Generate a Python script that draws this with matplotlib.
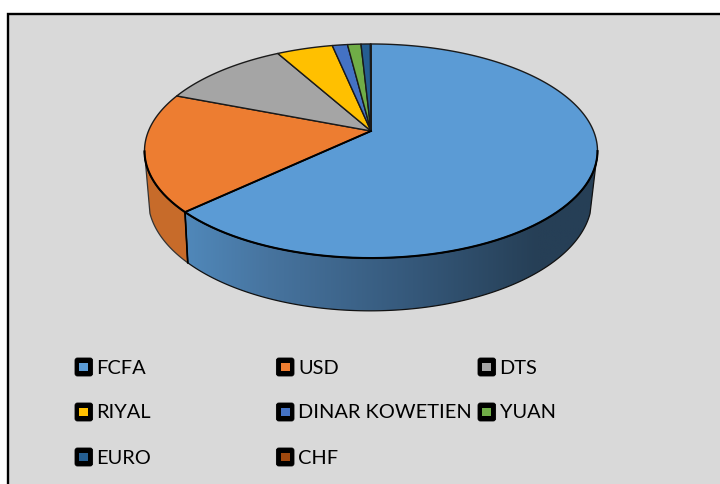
import numpy as np
import matplotlib
matplotlib.use('Agg')
import matplotlib.pyplot as plt
from matplotlib.colors import LinearSegmentedColormap
from matplotlib.patches import Polygon, Rectangle, FancyBboxPatch

# donnees (%)
labels = ['FCFA', 'USD', 'DTS', 'RIYAL', 'DINAR KOWETIEN', 'YUAN', 'EURO', 'CHF']
values = [63.0, 17.9, 11.0, 4.8, 1.3, 1.15, 0.8, 0.05]
colors = ['#5B9BD5', '#ED7D31', '#A5A5A5', '#FFC000', '#4472C4', '#70AD47', '#255E91', '#9E480E']

BG = '#D9D9D9'
K = 0.187  # perspective


def top_xy(t):
    # angle t en degres, sens horaire depuis le haut
    u = np.sin(np.radians(t))
    v = np.cos(np.radians(t))
    w = 1 + K * v
    return 371 + 222.5 * u / w, 131 - 103.3 * v / w


def bottom_xy(t):
    u = np.sin(np.radians(t))
    v = np.cos(np.radians(t))
    w = 1 + K * v
    return 370 + 218 * u / w, 178 - 108 * v / w


def rim(func, a, b, n=200):
    x, y = func(np.linspace(a, b, n))
    return list(zip(x, y))


fig = plt.figure(figsize=(7.2, 4.84), dpi=100)
ax = fig.add_axes([0, 0, 1, 1])
ax.axis('off')

ax.add_patch(Rectangle((7.5, 13.5), 730, 490, fc=BG, ec='black', lw=1.7))

edges = np.concatenate([[0], np.cumsum(values)]) / sum(values) * 360

# paroi bleue avec degrade horizontal
wall = Polygon(rim(top_xy, 100.8, edges[1]) + rim(bottom_xy, edges[1], 108),
               closed=True, fc='none', ec='#111111', lw=0.9, zorder=3)
ax.add_patch(wall)
shade = LinearSegmentedColormap.from_list('wall', [(0, '#5088ba'), (0.2, '#47749f'), (0.55, '#35587a'),
                                                   (0.85, '#263f56'), (1, '#263f56')])
im = ax.imshow(np.linspace(0, 1, 256).reshape(1, -1), cmap=shade, extent=(185, 600, 320, 140),
               aspect='auto', zorder=2)
im.set_clip_path(wall)

# paroi orange
ax.add_patch(Polygon(rim(top_xy, edges[1], 259) + rim(bottom_xy, 252, edges[1]),
                     closed=True, fc='#c76b2a', ec='#333333', lw=0.9, zorder=2.5))

x0, y0 = top_xy(edges[1])
x1, y1 = bottom_xy(edges[1])
ax.plot([x0, x1], [y0, y1], color='black', lw=1.2, zorder=3.5)

# dessus du camembert
for i in range(len(values)):
    t = np.linspace(edges[i], edges[i + 1], max(int(values[i] * 4), 3))
    x, y = top_xy(t)
    pts = [(371, 131)] + list(zip(x, y))
    ax.add_patch(Polygon(pts, closed=True, fc=colors[i], ec='#1a1a1a', lw=1.0, joinstyle='round', zorder=4))

# bord avant plus marque
x, y = top_xy(np.linspace(100.8, 259, 300))
ax.plot(x, y, color='black', lw=1.5, zorder=4.5)
ax.plot([371, x0], [131, y0], color='black', lw=1.4, zorder=4.5)

# legende
col_x = [74.6, 276, 477.6]
row_y = [367, 412, 457]
for i, lab in enumerate(labels):
    lx = col_x[i % 3]
    ly = row_y[i // 3]
    ax.add_patch(FancyBboxPatch((lx + 0.4, ly - 9), 17.6, 18, boxstyle='round,pad=0,rounding_size=2.5',
                                fc='black', ec='black', lw=0.6, zorder=5))
    ax.add_patch(Rectangle((lx + 4.8, ly - 4.3), 8.8, 8.6, fc=colors[i], ec='none', zorder=6))
    ax.text(lx + 22, ly + 1, lab, family='Lato', fontsize=14.4, color='black', va='center', ha='left', zorder=6)

ax.set_xlim(0, 720)
ax.set_ylim(484, 0)
fig.savefig('out.png', dpi=100)
